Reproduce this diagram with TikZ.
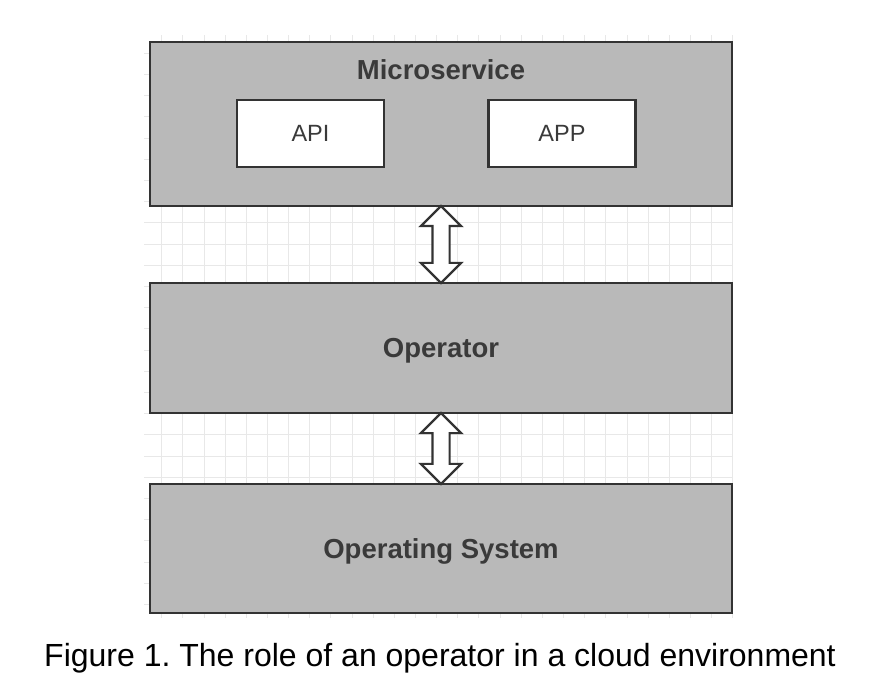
\documentclass[tikz,border=0pt]{standalone}
\usepackage{fontspec}
\setmainfont{Liberation Sans}
\usetikzlibrary{shapes.arrows, calc}
\definecolor{layergray}{HTML}{B9B9B9}
\definecolor{edgegray}{HTML}{333333}
\definecolor{textgray}{HTML}{3A3A3A}
\definecolor{gridgray}{HTML}{E8E8E8}
\tikzset{
    layer/.style={rectangle, draw=edgegray, fill=layergray, line width=2.5pt, minimum width=582pt},
    part/.style={rectangle, draw=edgegray, fill=white, line width=2.5pt, minimum width=147pt, minimum height=67pt, text height=16.9pt, text depth=0pt, font=\fontsize{23.5}{28}\selectfont, text=textgray},
    title/.style={font=\fontsize{27.5}{33}\selectfont\bfseries, text=textgray, text height=19.7pt, text depth=0pt},
    link/.style={double arrow, draw=edgegray, fill=white, line width=2.2pt, rotate=90, inner sep=7.5pt, double arrow head extend=11.5pt},
}
\frenchspacing

\begin{document}
\begin{tikzpicture}[x=1pt, y=-1pt]
\useasboundingbox (0,0) rectangle (870,700);

% Grid
\foreach \i in {0,...,27}
    \draw[gridgray, line width=1pt] (161.7+21.15*\i, 35) -- (161.7+21.15*\i, 618);
\foreach \j in {0,...,26}
    \draw[gridgray, line width=1pt] (144, 53.3+21.2*\j) -- (733, 53.3+21.2*\j);

% Layers
\node[layer, minimum height=164pt] (micro) at (441, 124) {};
\node[title] (microlabel) at (441, 70) {Microservice};
\node[part] (api) at (310.5, 133.3) {API};
\node[part] (app) at (562, 133.3) {APP};

\node[layer, title, minimum height=130pt] (operator) at (441, 348) {Operator};
\node[layer, title, minimum height=129pt] (os) at (441, 548.5) {Operating System};

% Links
\node[link, minimum height=77pt] (linkA) at ($(micro.south)!0.5!(operator.north)$) {};
\node[link, minimum height=71pt] (linkB) at ($(operator.south)!0.5!(os.north)$) {};

% Caption
\node[font=\fontsize{32}{38}\selectfont, anchor=base] (caption) at (440, 666.7) {Figure 1. The role of an operator in a cloud environment};

\end{tikzpicture}
\end{document}
